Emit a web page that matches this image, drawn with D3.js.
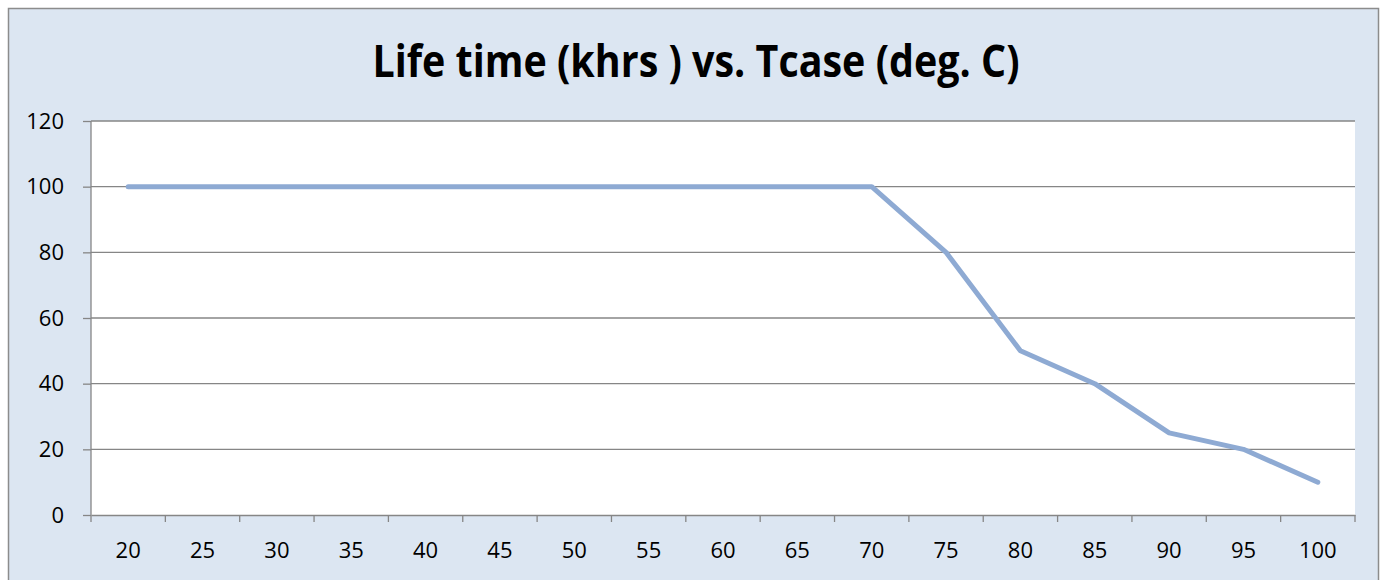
<!DOCTYPE html>
<html>
<head>
<meta charset="utf-8">
<script src="https://cdn.jsdelivr.net/npm/d3@7"></script>
<style>
  html, body { margin: 0; padding: 0; background: #fff; }
  #chart { width: 1387px; height: 580px; }
  text { font-family: "Open Sans", "Liberation Sans", sans-serif; fill: #000; }
</style>
</head>
<body>
<div id="chart"></div>
<script>
//Datos
const tcase = [20, 25, 30, 35, 40, 45, 50, 55, 60, 65, 70, 75, 80, 85, 90, 95, 100];
const lifeKhrs = [100, 100, 100, 100, 100, 100, 100, 100, 100, 100, 100, 80, 50, 40, 25, 20, 10];
const yTicks = [0, 20, 40, 60, 80, 100, 120];
const chartTitle = 'Life time (khrs ) vs. Tcase (deg. C)';

//Colores
const COLOR_BG = '#dce6f2',
  COLOR_BORDER = '#8c8c8c',
  COLOR_GRID = '#868686',
  COLOR_LINE = '#8eaad3';

let margin = {top: 121, right: 32, bottom: 65, left: 91},
  W = 1387, H = 580,
  width = W - margin.left - margin.right,
  height = H - margin.top - margin.bottom;

let svg = d3.select('#chart')
  .append('svg')
    .attr('width', W)
    .attr('height', H);

//Fondo del gráfico
svg.append('rect')
  .attr('x', 8.5).attr('y', 8.5)
  .attr('width', W - 17).attr('height', H + 10)
  .attr('fill', COLOR_BG)
  .attr('stroke', COLOR_BORDER)
  .attr('stroke-width', 1.5);

//Título
svg.append('text')
  .attr('x', 696)
  .attr('y', 77)
  .attr('text-anchor', 'middle')
  .attr('font-size', 45)
  .attr('font-weight', 'bold')
  .attr('textLength', 647)
  .attr('lengthAdjust', 'spacingAndGlyphs')
  .text(chartTitle);

let g = svg.append('g')
  .attr('transform', 'translate(' + margin.left + ',' + margin.top + ')');

g.append('rect')
  .attr('width', width).attr('height', height)
  .attr('fill', '#fff');

let x = d3.scaleBand()
  .domain(tcase)
  .range([0, width]);

let y = d3.scaleLinear()
  .domain([0, 120])
  .range([height, 0]);

//Líneas de la rejilla
g.append('g')
  .selectAll('line')
  .data(yTicks.filter(d => d > 0))
  .join('line')
    .attr('x1', 0).attr('x2', width)
    .attr('y1', d => y(d)).attr('y2', d => y(d))
    .attr('stroke', COLOR_GRID)
    .attr('stroke-width', 1.3);

//Eje Y
let yAxis = g.append('g')
  .call(d3.axisLeft(y).tickValues(yTicks).tickSize(8).tickPadding(19));
yAxis.selectAll('line, path').attr('stroke', COLOR_GRID).attr('stroke-width', 1.3);
yAxis.select('.domain').attr('d', 'M0,0V' + height);
yAxis.selectAll('text')
  .attr('font-family', '"Open Sans", sans-serif')
  .attr('font-size', 22)
  .attr('fill', '#000');

//Eje X
let xAxis = g.append('g')
  .attr('transform', 'translate(0,' + height + ')')
  .call(d3.axisBottom(x).tickSize(0).tickPadding(27));
xAxis.select('.domain').attr('stroke', COLOR_GRID).attr('stroke-width', 1.3);
xAxis.selectAll('text')
  .attr('font-family', '"Open Sans", sans-serif')
  .attr('font-size', 22)
  .attr('fill', '#000');

//Marcas entre categorías
xAxis.append('g')
  .selectAll('line')
  .data(d3.range(tcase.length + 1))
  .join('line')
    .attr('x1', i => i * x.step()).attr('x2', i => i * x.step())
    .attr('y1', 0).attr('y2', 7)
    .attr('stroke', COLOR_GRID)
    .attr('stroke-width', 1.3);

//Línea de datos
g.append('path')
  .datum(tcase.map((t, i) => ({t: t, v: lifeKhrs[i]})))
  .attr('fill', 'none')
  .attr('stroke', COLOR_LINE)
  .attr('stroke-width', 5)
  .attr('stroke-linecap', 'round')
  .attr('stroke-linejoin', 'round')
  .attr('d', d3.line()
    .x(d => x(d.t) + x.bandwidth() / 2)
    .y(d => y(d.v)));
</script>
</body>
</html>
